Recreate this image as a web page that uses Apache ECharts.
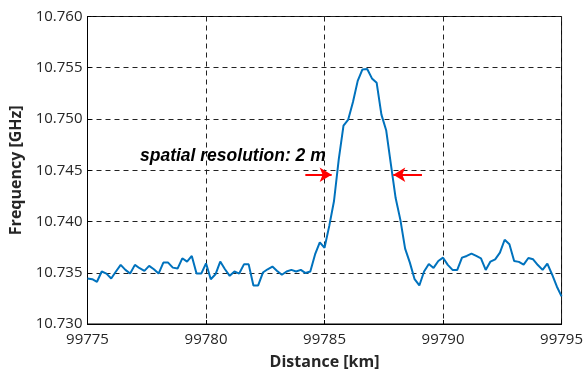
<!DOCTYPE html>
<html>
<head>
<meta charset="utf-8">
<script src="https://cdn.jsdelivr.net/npm/echarts@6/dist/echarts.min.js"></script>
<style>
html,body{margin:0;padding:0;background:#fff;}
#c{width:586px;height:375px;}
</style>
</head>
<body>
<div id="c"></div>
<script>
// Distance start and step (km)
var xStart = 99775;
var xStep = 0.2;
// Frequency values [GHz], one per 0.2 km
var freq = [
10.73444,10.73437,10.73412,10.73512,10.73492,10.73444,10.73512,10.73577,10.73528,10.73492,
10.73577,10.73544,10.73518,10.73567,10.73534,10.73492,10.73599,10.73599,10.73550,10.73541,
10.73641,10.73609,10.73664,10.73492,10.73492,10.73592,10.73437,10.73485,10.73609,10.73534,
10.73470,10.73512,10.73492,10.73582,10.73582,10.73376,10.73376,10.73502,10.73534,10.73560,
10.73518,10.73480,10.73512,10.73528,10.73512,10.73528,10.73497,10.73512,10.73679,10.73797,
10.73744,10.73957,10.74200,10.74607,10.74936,10.74994,10.75166,10.75372,10.75484,10.75488,
10.75396,10.75353,10.75043,10.74891,10.74558,10.74229,10.74016,10.73735,10.73599,10.73437,
10.73376,10.73512,10.73586,10.73547,10.73615,10.73647,10.73577,10.73528,10.73528,10.73647,
10.73664,10.73686,10.73664,10.73641,10.73528,10.73609,10.73631,10.73696,10.73822,10.73778,
10.73615,10.73606,10.73579,10.73644,10.73631,10.73575,10.73528,10.73589,10.73483,10.73366,
10.73269
];
var xTicks = [99775, 99780, 99785, 99790, 99795];
var yTicks = [10.730, 10.735, 10.740, 10.745, 10.750, 10.755, 10.760];
// Annotation arrows: [fromX, fromY, toX, toY]
var arrowLeft = [99784.19, 10.74456, 99785.30, 10.74456];
var arrowRight = [99789.11, 10.74456, 99787.90, 10.74456];
var annotationText = 'spatial resolution: 2 m';

var dist = freq.map(function(_, i){ return +(xStart + i * xStep).toFixed(1); });
var seriesData = freq.map(function(v, i){ return [dist[i], v]; });

var chart = echarts.init(document.getElementById('c'), null, {renderer:'canvas'});
var labelFont = 'Open Sans';
chart.setOption({
  animation: false,
  grid: {left: 87.5, right: 21.5, top: 16.5, bottom: 49, show: true, borderColor: '#000', borderWidth: 1, backgroundColor: 'transparent'},
  title: {
    text: annotationText, left: 135, top: 142,
    textStyle: {fontFamily: 'Liberation Sans', fontSize: 17.5, fontWeight: 'bold', fontStyle: 'italic', color: '#000'}
  },
  xAxis: {
    type: 'value', min: xTicks[0], max: xTicks[xTicks.length-1], interval: xTicks[1]-xTicks[0],
    name: 'Distance [km]', nameLocation: 'middle', nameGap: 30,
    nameTextStyle: {fontFamily: labelFont, fontSize: 16, fontWeight: 'bold', color: '#262626'},
    axisLine: {lineStyle: {color: '#000', width: 1}},
    axisTick: {inside: true, length: 4, lineStyle: {color: '#000'}},
    axisLabel: {fontFamily: labelFont, fontSize: 15, color: '#262626', margin: 8, formatter: function(v){ return String(v); }},
    splitLine: {show: true, lineStyle: {color: '#222', width: 1, type: [5, 4]}}
  },
  yAxis: {
    type: 'value', min: yTicks[0], max: yTicks[yTicks.length-1], interval: 0.005,
    name: 'Frequency [GHz]', nameLocation: 'middle', nameGap: 63,
    nameTextStyle: {fontFamily: labelFont, fontSize: 16, fontWeight: 'bold', color: '#262626'},
    axisLine: {show: true, lineStyle: {color: '#000', width: 1}},
    axisTick: {show: true, inside: true, length: 4, lineStyle: {color: '#000'}},
    axisLabel: {fontFamily: labelFont, fontSize: 15, color: '#262626', margin: 5, formatter: function(v){ return v.toFixed(3); }},
    splitLine: {show: true, lineStyle: {color: '#222', width: 1, type: [5, 4]}}
  },
  series: [{
    type: 'line', data: seriesData, showSymbol: false, symbol: 'none',
    lineStyle: {color: '#0072BD', width: 2},
    z: 3,
    markLine: {
      silent: true, symbol: ['none', 'arrow'], symbolSize: [11, 12],
      label: {show: false},
      lineStyle: {color: '#ff0000', width: 2, type: 'solid'},
      data: [
        [{coord: [arrowLeft[0], arrowLeft[1]]}, {coord: [arrowLeft[2], arrowLeft[3]]}],
        [{coord: [arrowRight[0], arrowRight[1]]}, {coord: [arrowRight[2], arrowRight[3]]}]
      ]
    }
  }]
});
</script>
</body>
</html>
